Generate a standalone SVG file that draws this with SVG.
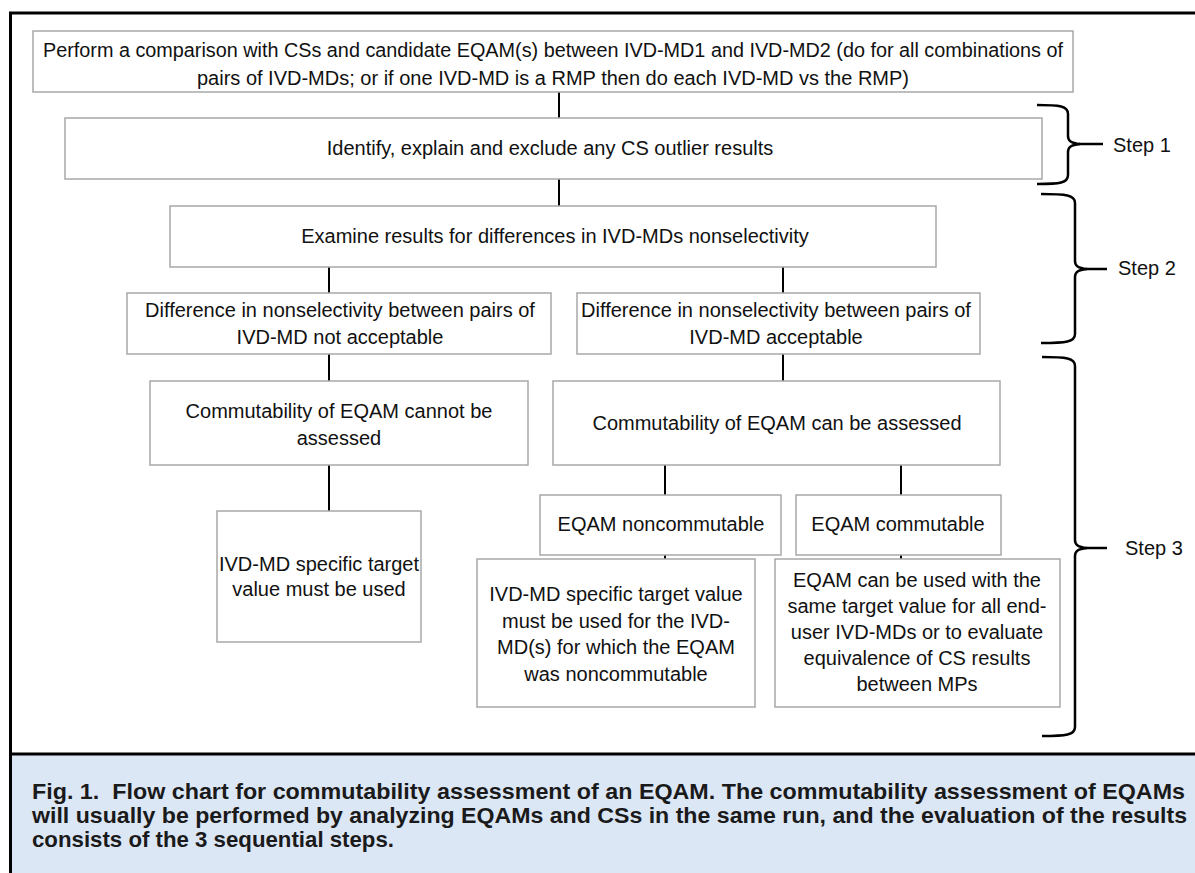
<svg xmlns="http://www.w3.org/2000/svg" width="1195" height="873" viewBox="0 0 1195 873">
<style>
  .box { fill: #ffffff; stroke: #a8a8a8; stroke-width: 1.5; }
  .t { font-family: "Liberation Sans", Arial, sans-serif; font-size: 20px; fill: #111; text-anchor: middle; }
  .step { font-family: "Liberation Sans", Arial, sans-serif; font-size: 20px; fill: #111; }
  .conn { stroke: #000; stroke-width: 2; fill: none; }
  .brace { stroke: #000; stroke-width: 2.5; fill: none; stroke-linecap: butt; }
  .cap { font-family: "Liberation Sans", Arial, sans-serif; font-size: 22px; font-weight: bold; fill: #1a1a1a; }
</style>
<rect x="0" y="0" width="1195" height="873" fill="#ffffff"/>
<rect x="11" y="755" width="1184" height="118" fill="#dce7f6"/>
<path d="M10.5,873 V13 H1195" stroke="#000" stroke-width="3" fill="none"/>
<line x1="10" y1="754" x2="1195" y2="754" stroke="#000" stroke-width="3"/>

<g id="connectors">
  <line class="conn" x1="559" y1="92" x2="559" y2="118"/>
  <line class="conn" x1="559" y1="179" x2="559" y2="206"/>
  <line class="conn" x1="329" y1="267" x2="329" y2="293"/>
  <line class="conn" x1="783" y1="267" x2="783" y2="293"/>
  <line class="conn" x1="329" y1="354" x2="329" y2="381"/>
  <line class="conn" x1="783" y1="354" x2="783" y2="381"/>
  <line class="conn" x1="329" y1="465" x2="329" y2="511"/>
  <line class="conn" x1="665" y1="465" x2="665" y2="495"/>
  <line class="conn" x1="901" y1="465" x2="901" y2="495"/>
  <line class="conn" x1="665" y1="555" x2="665" y2="559"/>
  <line class="conn" x1="901" y1="555" x2="901" y2="559"/>
</g>

<g id="n1">
  <rect class="box" x="33" y="31" width="1040" height="61"/>
  <text class="t" x="553" y="57" textLength="1020" lengthAdjust="spacingAndGlyphs">Perform a comparison with CSs and candidate EQAM(s) between IVD-MD1 and IVD-MD2 (do for all combinations of</text>
  <text class="t" x="553" y="85">pairs of IVD-MDs; or if one IVD-MD is a RMP then do each IVD-MD vs the RMP)</text>
</g>
<g id="n2">
  <rect class="box" x="65" y="118" width="977" height="61"/>
  <text class="t" x="550" y="155">Identify, explain and exclude any CS outlier results</text>
</g>
<g id="n3">
  <rect class="box" x="170" y="206" width="766" height="61"/>
  <text class="t" x="555" y="243">Examine results for differences in IVD-MDs nonselectivity</text>
</g>
<g id="n4l">
  <rect class="box" x="127" y="293" width="424" height="61"/>
  <text class="t" x="340" y="317">Difference in nonselectivity between pairs of</text>
  <text class="t" x="340" y="344">IVD-MD not acceptable</text>
</g>
<g id="n4r">
  <rect class="box" x="577" y="293" width="403" height="61"/>
  <text class="t" x="776" y="317">Difference in nonselectivity between pairs of</text>
  <text class="t" x="776" y="344">IVD-MD acceptable</text>
</g>
<g id="n5l">
  <rect class="box" x="150" y="381" width="378" height="84"/>
  <text class="t" x="339" y="418">Commutability of EQAM cannot be</text>
  <text class="t" x="339" y="445">assessed</text>
</g>
<g id="n5r">
  <rect class="box" x="553" y="381" width="447" height="84"/>
  <text class="t" x="777" y="430">Commutability of EQAM can be assessed</text>
</g>
<g id="n6l">
  <rect class="box" x="217" y="511" width="204" height="131"/>
  <text class="t" x="319" y="571">IVD-MD specific target</text>
  <text class="t" x="319" y="596">value must be used</text>
</g>
<g id="n6m">
  <rect class="box" x="540" y="495" width="241" height="60"/>
  <text class="t" x="661" y="531">EQAM noncommutable</text>
</g>
<g id="n6r">
  <rect class="box" x="796" y="495" width="205" height="60"/>
  <text class="t" x="898" y="531">EQAM commutable</text>
</g>
<g id="n7l">
  <rect class="box" x="477" y="559" width="278" height="148"/>
  <text class="t" x="616" y="601">IVD-MD specific target value</text>
  <text class="t" x="616" y="627.5">must be used for the IVD-</text>
  <text class="t" x="616" y="654">MD(s) for which the EQAM</text>
  <text class="t" x="616" y="680.5">was noncommutable</text>
</g>
<g id="n7r">
  <rect class="box" x="775" y="559" width="285" height="148"/>
  <text class="t" x="917" y="587">EQAM can be used with the</text>
  <text class="t" x="917" y="613">same target value for all end-</text>
  <text class="t" x="917" y="639">user IVD-MDs or to evaluate</text>
  <text class="t" x="917" y="665">equivalence of CS results</text>
  <text class="t" x="917" y="691">between MPs</text>
</g>

<g id="step1">
  <path class="brace" d="M1037,105 C1060,105 1068,106 1068,114 L1068,136 C1068,141 1071,143 1080,144 C1071,145 1068,147 1068,152 L1068,175 C1068,183 1060,184 1037,184"/>
  <line class="brace" x1="1079" y1="144" x2="1103" y2="144" stroke-width="3"/>
  <text class="step" x="1113" y="152">Step 1</text>
</g>
<g id="step2">
  <path class="brace" d="M1041,194 C1066,194 1075,195 1075,203 L1075,261 C1075,266 1078,268 1087,269 C1078,270 1075,272 1075,277 L1075,334 C1075,342 1066,343 1041,343"/>
  <line class="brace" x1="1086" y1="269" x2="1107" y2="269" stroke-width="3"/>
  <text class="step" x="1118" y="275">Step 2</text>
</g>
<g id="step3">
  <path class="brace" d="M1042,357 C1066,357 1075,358 1075,366 L1075,540 C1075,545 1078,547 1087,548 C1078,549 1075,551 1075,556 L1075,727 C1075,735 1066,736 1042,736"/>
  <line class="brace" x1="1086" y1="548" x2="1107" y2="548" stroke-width="3"/>
  <text class="step" x="1125" y="555">Step 3</text>
</g>

<g id="caption">
  <text class="cap" x="32" y="799" textLength="1153" lengthAdjust="spacingAndGlyphs">Fig. 1.&#160; Flow chart for commutability assessment of an EQAM. The commutability assessment of EQAMs</text>
  <text class="cap" x="32" y="823" textLength="1155" lengthAdjust="spacingAndGlyphs">will usually be performed by analyzing EQAMs and CSs in the same run, and the evaluation of the results</text>
  <text class="cap" x="32" y="847" textLength="362" lengthAdjust="spacingAndGlyphs">consists of the 3 sequential steps.</text>
</g>
</svg>
